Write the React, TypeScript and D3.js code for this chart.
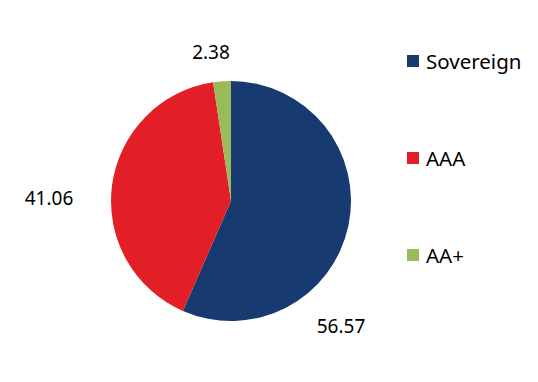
import React from "react";
import * as d3 from "d3";

const categories = ["Sovereign", "AAA", "AA+"];
const values = [56.57, 41.06, 2.38];
const valueLabels = ["56.57", "41.06", "2.38"];
const colors = ["#173b70", "#e21f26", "#9bbb59"];

const labelPos: [number, number][] = [
  [341, 333],
  [49, 205],
  [211, 59],
];

export default function App() {
  const W = 538, H = 382;
  const cx = 231, cy = 201, r = 120;
  const pie = d3.pie<number>().sort(null).value((d) => d)(values);
  const arc = d3.arc<d3.PieArcDatum<number>>().innerRadius(0).outerRadius(r);
  const legendY = d3.scalePoint<string>().domain(categories).range([61, 255]);
  const font = "'Noto Sans', 'Open Sans', sans-serif";
  return (
    <svg width={W} height={H} style={{ position: "absolute", left: 0, top: 0 }}>
      <rect width={W} height={H} fill="#fff" />
      <g transform={`translate(${cx},${cy})`}>
        {pie.map((p, i) => (
          <path key={i} d={arc(p) || ""} fill={colors[i]} />
        ))}
      </g>
      {valueLabels.map((t, i) => (
        <text key={t} x={labelPos[i][0]} y={labelPos[i][1]} textAnchor="middle" fontSize={19} fontFamily={font} fill="#000">
          {t}
        </text>
      ))}
      {categories.map((c, i) => {
        const y = legendY(c)!;
        return (
          <g key={c}>
            <rect x={407} y={y - 6} width={12} height={12} fill={colors[i]} />
            <text x={426} y={y + 8} fontSize={20.5} fontFamily={font} fill="#000">
              {c}
            </text>
          </g>
        );
      })}
    </svg>
  );
}
